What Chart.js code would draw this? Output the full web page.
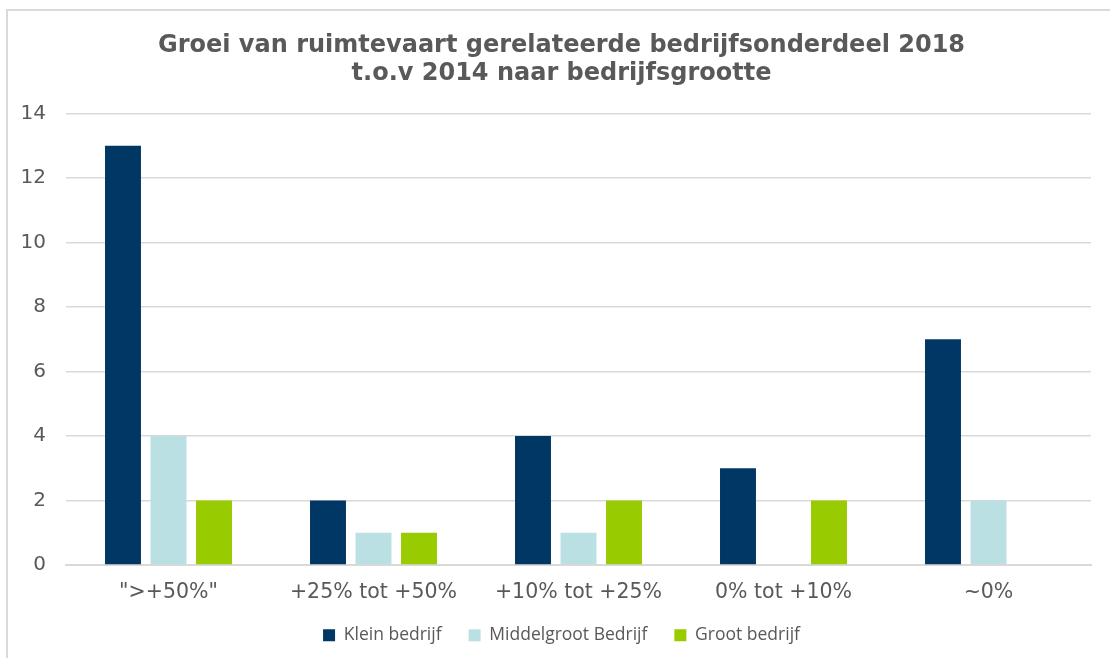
<!DOCTYPE html>
<html>
<head>
<meta charset="utf-8">
<script src="https://cdn.jsdelivr.net/npm/chart.js@4/dist/chart.umd.min.js"></script>
<style>
  html, body { margin: 0; padding: 0; background: #ffffff; }
  #wrap { position: relative; width: 1110px; height: 658px; }
</style>
</head>
<body>
<div id="wrap"><canvas id="c" width="1110" height="658"></canvas></div>
<script>
const categories = ['">+50%"', '+25% tot +50%', '+10% tot +25%', '0% tot +10%', '~0%'];
const kleinBedrijf = [13, 2, 4, 3, 7];
const middelgrootBedrijf = [4, 1, 1, 0, 2];
const grootBedrijf = [2, 1, 2, 2, 0];
const seriesNames = ['Klein bedrijf', 'Middelgroot Bedrijf', 'Groot bedrijf'];
const titleLines = ['Groei van ruimtevaart gerelateerde bedrijfsonderdeel 2018', 't.o.v 2014 naar bedrijfsgrootte'];

const frame = {
  id: 'frame',
  afterLayout(chart) {
    // centre title and legend on the plot frame rather than the canvas
    if (chart.titleBlock) { chart.titleBlock.left += 20; }
    if (chart.legend) { chart.legend.left += 20; }
  },
  beforeDraw(chart) {
    const ctx = chart.ctx;
    ctx.save();
    ctx.fillStyle = '#ffffff';
    ctx.fillRect(0, 0, chart.width, chart.height);
    ctx.strokeStyle = '#d9d9d9';
    ctx.lineWidth = 2;
    ctx.beginPath();
    ctx.moveTo(7, chart.height);
    ctx.lineTo(7, 10);
    ctx.lineTo(chart.width, 10);
    ctx.stroke();
    ctx.restore();
  }
};

const common = { categoryPercentage: 0.666, barPercentage: 0.79 };
new Chart(document.getElementById('c'), {
  type: 'bar',
  data: {
    labels: categories,
    datasets: [
      Object.assign({ label: seriesNames[0], data: kleinBedrijf, backgroundColor: '#003764' }, common),
      Object.assign({ label: seriesNames[1], data: middelgrootBedrijf, backgroundColor: '#bae0e3' }, common),
      Object.assign({ label: seriesNames[2], data: grootBedrijf, backgroundColor: '#99cc00' }, common)
    ]
  },
  options: {
    responsive: false,
    animation: false,
    layout: { padding: { left: 12, right: 19, top: 31, bottom: 4 } },
    plugins: {
      title: {
        display: true,
        text: titleLines,
        color: '#595959',
        font: { family: 'DejaVu Sans', size: 24, weight: 'bold', lineHeight: 1.2 },
        padding: { top: 0, bottom: 25 }
      },
      legend: {
        position: 'bottom',
        labels: {
          color: '#595959',
          font: { family: 'Open Sans', size: 17.5 },
          boxWidth: 12,
          boxHeight: 12,
          padding: 27
        }
      },
      tooltip: { enabled: false }
    },
    scales: {
      x: {
        grid: { display: false, drawTicks: false },
        border: { display: true, color: '#d9d9d9', width: 2 },
        ticks: {
          color: '#595959',
          font: { family: 'DejaVu Sans', size: 20.5 },
          padding: 15
        },
        afterFit(scale) { scale.height -= 20; }
      },
      y: {
        min: 0,
        max: 14,
        grid: { color: '#d9d9d9', lineWidth: 1.5, drawTicks: false },
        border: { display: false },
        ticks: {
          stepSize: 2,
          color: '#595959',
          font: { family: 'DejaVu Sans', size: 20 },
          padding: 20
        },
        afterFit(scale) { scale.width = 54; }
      }
    }
  },
  plugins: [frame]
});
</script>
</body>
</html>
